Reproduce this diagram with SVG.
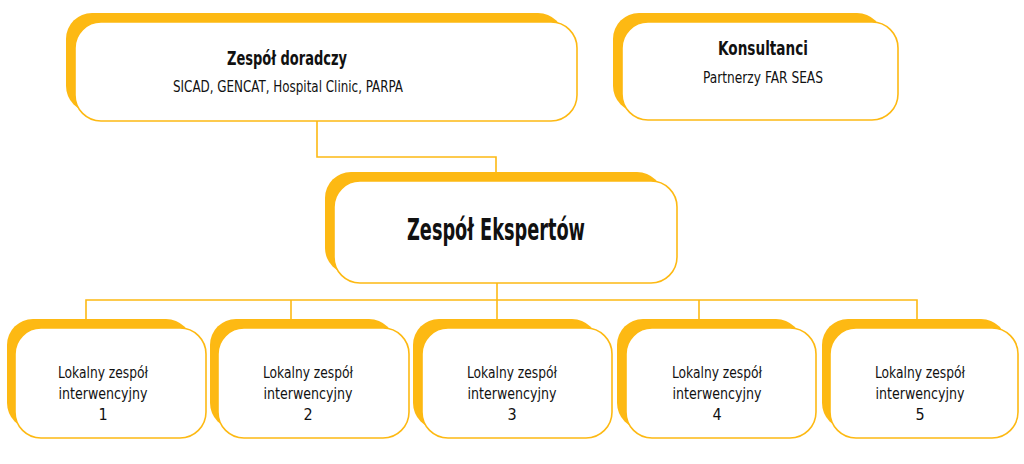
<svg xmlns="http://www.w3.org/2000/svg" width="1024" height="464" viewBox="0 0 1024 464">
<style>
.back{fill:#FDB913;}
.front{fill:#FFFFFF;stroke:#FDB913;stroke-width:1.6;}
.conn{fill:none;stroke:#FDB913;stroke-width:1.6;}
text{font-family:"DejaVu Sans Condensed","Liberation Sans",sans-serif;fill:#111;text-anchor:middle;}
.t{font-weight:bold;font-size:20px;}
.s{font-size:15px;}
.big{font-weight:bold;font-size:30px;}
.l{font-size:16px;}
</style>
<rect width="1024" height="464" fill="#FFFFFF"/>
<g id="connectors">
<path class="conn" d="M317,121 V157 H496 V181"/>
<path class="conn" d="M497,283 V300"/>
<path class="conn" d="M86,319 V300 H917 V319"/>
<path class="conn" d="M291,300 V319"/>
<path class="conn" d="M497,300 V319"/>
<path class="conn" d="M699,300 V319"/>
</g>
<g id="doradczy">
<rect class="back" x="66" y="13" width="498" height="99" rx="26"/>
<rect class="front" x="75" y="22" width="502" height="99" rx="26"/>
<text class="t" x="287" y="65" textLength="120" lengthAdjust="spacingAndGlyphs">Zespół doradczy</text>
<text class="s" x="288" y="92" textLength="230" lengthAdjust="spacingAndGlyphs">SICAD, GENCAT, Hospital Clinic, PARPA</text>
</g>
<g id="konsultanci">
<rect class="back" x="613" y="13" width="270" height="99" rx="26"/>
<rect class="front" x="622" y="22" width="276" height="98" rx="26"/>
<text class="t" x="763" y="55" textLength="90" lengthAdjust="spacingAndGlyphs">Konsultanci</text>
<text class="s" x="763" y="83" textLength="120" lengthAdjust="spacingAndGlyphs">Partnerzy FAR SEAS</text>
</g>
<g id="eksperci">
<rect class="back" x="325" y="172" width="338" height="102" rx="26"/>
<rect class="front" x="334" y="181" width="343" height="102" rx="26"/>
<text class="big" x="496" y="240" textLength="178" lengthAdjust="spacingAndGlyphs">Zespół Ekspertów</text>
</g>
<g id="lokalny1">
<rect class="back" x="7" y="319" width="185" height="110" rx="26"/>
<rect class="front" x="15" y="328" width="191" height="110" rx="26"/>
<text class="l" x="103" y="378" textLength="90" lengthAdjust="spacingAndGlyphs">Lokalny zespół</text>
<text class="l" x="103" y="399" textLength="89" lengthAdjust="spacingAndGlyphs">interwencyjny</text>
<text class="l" x="103" y="420">1</text>
</g>
<g id="lokalny2">
<rect class="back" x="210" y="319" width="185" height="110" rx="26"/>
<rect class="front" x="218" y="328" width="191" height="110" rx="26"/>
<text class="l" x="308" y="378" textLength="90" lengthAdjust="spacingAndGlyphs">Lokalny zespół</text>
<text class="l" x="308" y="399" textLength="89" lengthAdjust="spacingAndGlyphs">interwencyjny</text>
<text class="l" x="308" y="420">2</text>
</g>
<g id="lokalny3">
<rect class="back" x="413" y="319" width="185" height="110" rx="26"/>
<rect class="front" x="422" y="328" width="190" height="110" rx="26"/>
<text class="l" x="512" y="378" textLength="90" lengthAdjust="spacingAndGlyphs">Lokalny zespół</text>
<text class="l" x="512" y="399" textLength="89" lengthAdjust="spacingAndGlyphs">interwencyjny</text>
<text class="l" x="512" y="420">3</text>
</g>
<g id="lokalny4">
<rect class="back" x="617" y="319" width="185" height="110" rx="26"/>
<rect class="front" x="626" y="328" width="190" height="110" rx="26"/>
<text class="l" x="717" y="378" textLength="90" lengthAdjust="spacingAndGlyphs">Lokalny zespół</text>
<text class="l" x="717" y="399" textLength="89" lengthAdjust="spacingAndGlyphs">interwencyjny</text>
<text class="l" x="717" y="420">4</text>
</g>
<g id="lokalny5">
<rect class="back" x="822" y="319" width="185" height="110" rx="26"/>
<rect class="front" x="830" y="328" width="188" height="110" rx="26"/>
<text class="l" x="920" y="378" textLength="90" lengthAdjust="spacingAndGlyphs">Lokalny zespół</text>
<text class="l" x="920" y="399" textLength="89" lengthAdjust="spacingAndGlyphs">interwencyjny</text>
<text class="l" x="920" y="420">5</text>
</g>
</svg>
